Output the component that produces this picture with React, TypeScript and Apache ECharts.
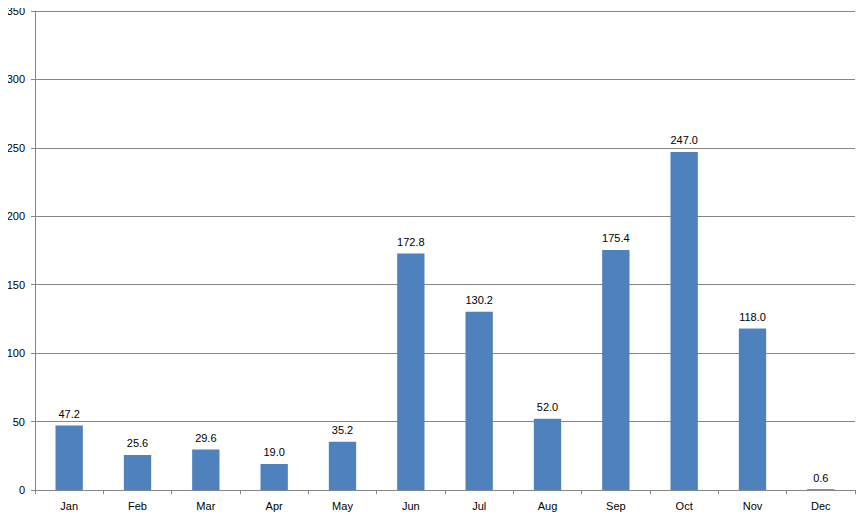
import React, { useEffect, useRef } from "react";
import * as echarts from "echarts";

const months = ["Jan", "Feb", "Mar", "Apr", "May", "Jun", "Jul", "Aug", "Sep", "Oct", "Nov", "Dec"];
const values = [47.2, 25.6, 29.6, 19.0, 35.2, 172.8, 130.2, 52.0, 175.4, 247.0, 118.0, 0.6];

export default function App() {
  const ref = useRef<HTMLDivElement>(null);
  useEffect(() => {
    const chart = echarts.init(ref.current!, null, { renderer: "svg" });
    chart.setOption({
      animation: false,
      grid: { left: 35, right: 13, top: 11, bottom: 30 },
      xAxis: {
        type: "category",
        data: months,
        axisLine: { lineStyle: { color: "#868686" } },
        axisTick: { show: true, length: 4, inside: false, lineStyle: { color: "#868686" } },
        axisLabel: { color: "#000", fontSize: 11, fontFamily: "Liberation Sans", margin: 10 },
      },
      yAxis: {
        type: "value",
        min: 0,
        max: 350,
        interval: 50,
        axisLine: { show: true, lineStyle: { color: "#868686" } },
        axisTick: { show: true, length: 4, lineStyle: { color: "#868686" } },
        splitLine: { lineStyle: { color: "#868686" } },
        axisLabel: { color: "#000", fontSize: 11, fontFamily: "Liberation Sans", margin: 10 },
      },
      series: [
        {
          type: "bar",
          data: values,
          barWidth: "40%",
          itemStyle: { color: "#4F81BD" },
          label: {
            show: true,
            position: "top",
            color: "#000",
            fontSize: 11,
            fontFamily: "Liberation Sans",
            distance: 6,
            formatter: (p: any) => Number(p.value).toFixed(1),
          },
        },
      ],
    });
    return () => chart.dispose();
  }, []);
  return <div ref={ref} style={{ width: 868, height: 520, margin: -8 }} />;
}
